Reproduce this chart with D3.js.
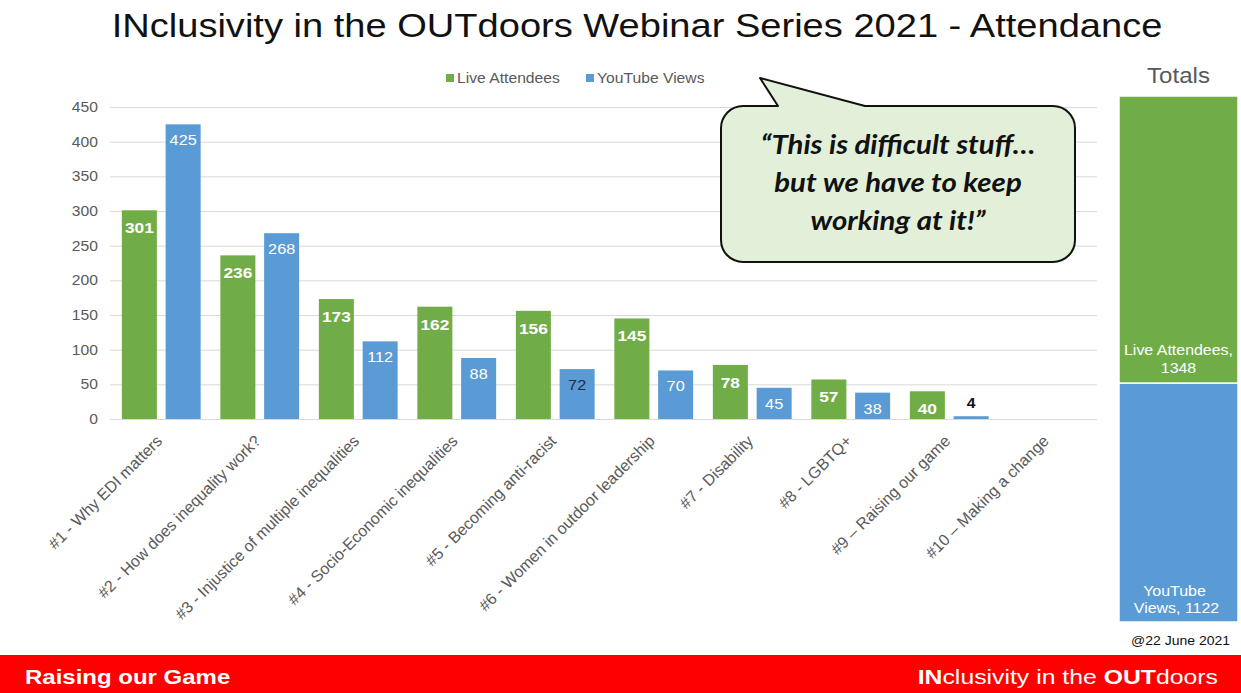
<!DOCTYPE html>
<html>
<head>
<meta charset="utf-8">
<script src="https://cdn.jsdelivr.net/npm/d3@7"></script>
<style>
  html, body { margin: 0; padding: 0; background: #fff; }
  svg { display: block; }
</style>
</head>
<body>
<svg id="chart" width="1241" height="693"></svg>
<script>
// Webinar sessions and their attendance
const categories = [
  "#1 - Why EDI matters",
  "#2 - How does inequality work?",
  "#3 - Injustice of multiple inequalities",
  "#4 - Socio-Economic inequalities",
  "#5 - Becoming anti-racist",
  "#6 - Women in outdoor leadership",
  "#7 - Disability",
  "#8 - LGBTQ+",
  "#9 \u2013 Raising our game",
  "#10 \u2013 Making a change"
];
const liveAttendees = [301, 236, 173, 162, 156, 145, 78, 57, 40, null];
const youTubeViews  = [425, 268, 112, 88, 72, 70, 45, 38, 4, null];
const seriesNames = ["Live Attendees", "YouTube Views"];
const yTicks = [0, 50, 100, 150, 200, 250, 300, 350, 400, 450];

const GREEN = "#70ad47", BLUE = "#5b9bd5", GREY = "#595959";
const FONT = "'Liberation Sans', Arial, sans-serif";
const SX = 1.12; // slide text is drawn slightly wide

const svg = d3.select("#chart");

// Text drawn with a horizontal stretch around its anchor point
function wideText(parent, x, y, str, opts) {
  const o = Object.assign({ size: 14, anchor: "start", fill: GREY, weight: "normal", style: "normal", family: FONT, sx: SX }, opts);
  const g = parent.append("g").attr("transform", `translate(${x},${y}) scale(${o.sx},1)`);
  return g.append("text")
    .attr("text-anchor", o.anchor)
    .attr("font-family", o.family).attr("font-size", o.size)
    .attr("font-weight", o.weight).attr("font-style", o.style)
    .attr("fill", o.fill)
    .text(str);
}

// Title
wideText(svg, 637, 37, "INclusivity in the OUTdoors Webinar Series 2021 - Attendance",
  { size: 34, anchor: "middle", fill: "#111" });

// Main grouped bar chart
const plot = { left: 112, right: 1097, top: 107, bottom: 419 };
const x0 = d3.scaleBand().domain(categories).range([plot.left, plot.right]).paddingInner(0.2).paddingOuter(0.1);
const x1 = d3.scaleBand().domain(seriesNames).range([0, x0.bandwidth()]).paddingInner(0.2);
const y = d3.scaleLinear().domain([0, 450]).range([plot.bottom, plot.top]);

// Gridlines and y axis
const yAxis = svg.append("g")
  .attr("transform", `translate(${plot.left - 2},0)`)
  .call(d3.axisLeft(y).tickValues(yTicks).tickSize(-(plot.right - plot.left + 2)).tickFormat(""));
yAxis.select(".domain").remove();
yAxis.selectAll(".tick line").attr("stroke", "#d9d9d9").attr("stroke-width", 1);
const yLabels = svg.append("g");
yTicks.forEach(t => wideText(yLabels, 98, y(t) + 5, t, { size: 14, anchor: "end" }));

// Bars
const rows = categories.map((c, i) => ({ cat: c, values: [
  { key: seriesNames[0], value: liveAttendees[i] },
  { key: seriesNames[1], value: youTubeViews[i] }
]}));
const color = d3.scaleOrdinal().domain(seriesNames).range([GREEN, BLUE]);

const groups = svg.append("g").selectAll("g").data(rows).join("g")
  .attr("transform", d => `translate(${x0(d.cat)},0)`);

groups.selectAll("rect")
  .data(d => d.values.filter(v => v.value != null))
  .join("rect")
  .attr("x", d => x1(d.key))
  .attr("width", x1.bandwidth())
  .attr("y", d => y(d.value))
  .attr("height", d => y(0) - y(d.value))
  .attr("fill", d => color(d.key));

// Value labels
groups.each(function (row) {
  const g = d3.select(this);
  row.values.filter(v => v.value != null).forEach(v => {
    const cx = x1(v.key) + x1.bandwidth() / 2;
    const live = v.key === seriesNames[0];
    const inside = (y(0) - y(v.value)) > 22;
    if (live) {
      wideText(g, cx, y(v.value) + 23, v.value, { size: 15.5, anchor: "middle", weight: "bold", fill: "#fff" });
    } else if (inside) {
      wideText(g, cx, y(v.value) + 21, v.value, { size: 14.5, anchor: "middle", fill: v.value === 72 ? "#1f2a44" : "#fff" });
    } else {
      wideText(g, cx, y(v.value) - 8, v.value, { size: 14, anchor: "middle", weight: "bold", fill: "#111" });
    }
  });
});

// Category labels, rotated
svg.append("g").selectAll("text").data(categories).join("text")
  .attr("font-family", FONT).attr("font-size", 16).attr("fill", GREY)
  .attr("text-anchor", "end")
  .attr("transform", d => `translate(${x0(d) + x0.bandwidth() / 2 + 2},${plot.bottom + 23}) rotate(-45)`)
  .text(d => d);

// Legend
const legend = svg.append("g").attr("transform", "translate(446,74)");
const legendX = [0, 140];
seriesNames.forEach((s, i) => {
  const g = legend.append("g").attr("transform", `translate(${legendX[i]},0)`);
  g.append("rect").attr("x", 0).attr("y", 0).attr("width", 8).attr("height", 8).attr("fill", color(s));
  wideText(g, 11, 9, s, { size: 14 });
});

// Totals stacked bar
const totals = seriesNames.map((s, i) => ({ key: s, value: d3.sum(i === 0 ? liveAttendees : youTubeViews) }));
const grand = d3.sum(totals, d => d.value);
const yT = d3.scaleLinear().domain([0, grand]).range([622, 96]);
const stackT = [
  { key: totals[1].key, value: totals[1].value, y0: 0, y1: totals[1].value },
  { key: totals[0].key, value: totals[0].value, y0: totals[1].value, y1: grand }
];
const tX = 1119, tW = 119;
wideText(svg, tX + tW / 2, 83, "Totals", { size: 21.5, anchor: "middle" });
svg.append("g").selectAll("rect").data(stackT).join("rect")
  .attr("x", tX).attr("width", tW)
  .attr("y", d => yT(d.y1)).attr("height", d => yT(d.y0) - yT(d.y1))
  .attr("fill", d => color(d.key))
  .attr("stroke", "#fff").attr("stroke-width", 1.5);

// Totals labels
const liveT = stackT[1], ytT = stackT[0];
wideText(svg, tX + tW / 2, yT(liveT.y0) - 28, `${liveT.key},`, { size: 14.5, anchor: "middle", fill: "#fff", sx: 1.1 });
wideText(svg, tX + tW / 2, yT(liveT.y0) - 10, liveT.value, { size: 14.5, anchor: "middle", fill: "#fff", sx: 1.1 });
wideText(svg, tX + tW / 2 - 4, yT(ytT.y0) - 26, "YouTube", { size: 14.5, anchor: "middle", fill: "#fff", sx: 1.1 });
wideText(svg, tX + tW / 2 - 2, yT(ytT.y0) - 9, `Views, ${ytT.value}`, { size: 14.5, anchor: "middle", fill: "#fff", sx: 1.1 });

wideText(svg, tX + tW / 2 + 2, 645, "@22 June 2021", { size: 12.5, anchor: "middle", fill: "#111" });

// Speech bubble callout
const bx = 721, by = 106, bw = 354, bh = 156, r = 22;
const tailL = 778, tailR = 865, tipX = 760, tipY = 78;
const bubble = d3.path();
bubble.moveTo(bx + r, by);
bubble.lineTo(tailL, by);
bubble.lineTo(tipX, tipY);
bubble.lineTo(tailR, by);
bubble.lineTo(bx + bw - r, by);
bubble.arcTo(bx + bw, by, bx + bw, by + r, r);
bubble.lineTo(bx + bw, by + bh - r);
bubble.arcTo(bx + bw, by + bh, bx + bw - r, by + bh, r);
bubble.lineTo(bx + r, by + bh);
bubble.arcTo(bx, by + bh, bx, by + bh - r, r);
bubble.lineTo(bx, by + r);
bubble.arcTo(bx, by, bx + r, by, r);
bubble.closePath();
svg.append("path").attr("d", bubble.toString())
  .attr("fill", "#e2efd9").attr("stroke", "#111").attr("stroke-width", 2).attr("stroke-linejoin", "round");

const quote = ["\u201cThis is difficult stuff\u2026", "but we have to keep", "working at it!\u201d"];
quote.forEach((q, i) => wideText(svg, 898, 154 + i * 38, q, {
  size: 26, anchor: "middle", weight: "bold", style: "italic", fill: "#111",
  family: "Lato, 'Open Sans', sans-serif", sx: 1.13
}));

// Footer band
svg.append("rect").attr("x", 0).attr("y", 655).attr("width", 1241).attr("height", 38).attr("fill", "#ff0000");
wideText(svg, 25, 684, "Raising our Game", { size: 20, weight: "bold", fill: "#fff", sx: 1.2 });
const ft = wideText(svg, 1218, 684, "", { size: 20, anchor: "end", fill: "#fff", sx: 1.24 });
ft.append("tspan").attr("font-weight", "bold").text("IN");
ft.append("tspan").text("clusivity in the ");
ft.append("tspan").attr("font-weight", "bold").text("OUT");
ft.append("tspan").text("doors");
</script>
</body>
</html>
